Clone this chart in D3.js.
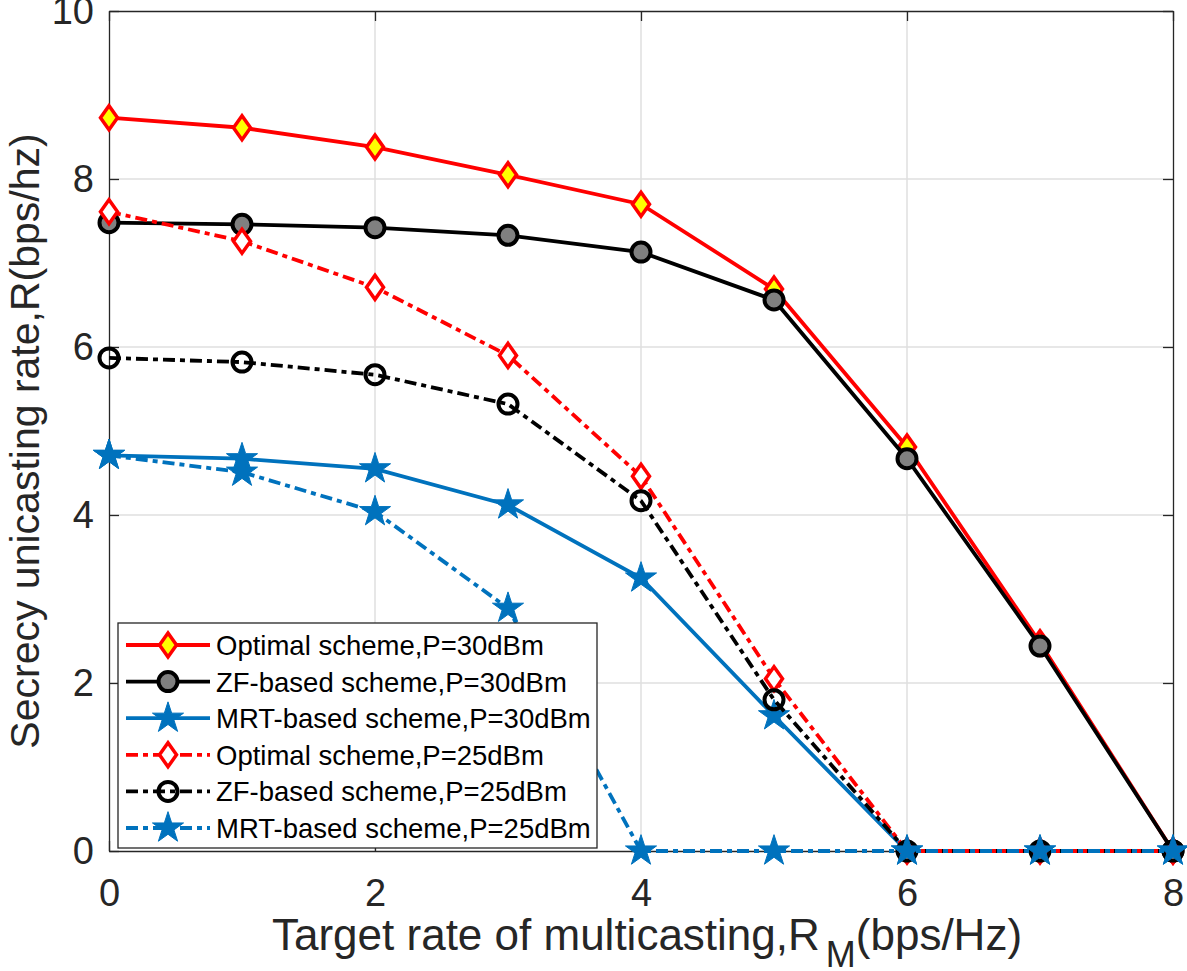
<!DOCTYPE html>
<html><head><meta charset="utf-8">
<script src="https://cdn.jsdelivr.net/npm/d3@7"></script>
<style>body{margin:0;background:#fff;} text{font-family:"Liberation Sans",Arial,Helvetica,sans-serif;}</style>
</head><body><svg id="c" width="1187" height="971"></svg>
<script>
const xs = [0,1,2,3,4,5,6,7,8];
const opt30 = [8.73,8.61,8.38,8.05,7.70,6.69,4.81,2.48,0];
const zf30  = [7.48,7.46,7.42,7.33,7.13,6.56,4.67,2.44,0];
const mrt30 = [4.71,4.67,4.55,4.12,3.25,1.61,0,0,0];
const opt25 = [7.61,7.26,6.71,5.90,4.46,2.05,0,0,0];
const zf25  = [5.87,5.82,5.67,5.32,4.17,1.80,0,0,0];
const mrt25 = [4.71,4.51,4.04,2.89,0,0,0,0,0];
const xTicks = [0,2,4,6,8];
const yTicks = [0,2,4,6,8,10];
const names = ["Optimal scheme,P=30dBm","ZF-based scheme,P=30dBm","MRT-based scheme,P=30dBm",
               "Optimal scheme,P=25dBm","ZF-based scheme,P=25dBm","MRT-based scheme,P=25dBm"];

const L=109,R=1173,T=11,B=851;
const svg=d3.select("#c");
const x=d3.scaleLinear().domain([0,8]).range([L,R]);
const y=d3.scaleLinear().domain([0,10]).range([B,T]);

// grid
svg.append("g").selectAll("line").data(xTicks.slice(1,-1)).join("line")
  .attr("x1",d=>x(d)).attr("x2",d=>x(d)).attr("y1",T).attr("y2",B)
  .attr("stroke","#dfdfdf").attr("stroke-width",1.5);
svg.append("g").selectAll("line").data(yTicks.slice(1,-1)).join("line")
  .attr("y1",d=>y(d)).attr("y2",d=>y(d)).attr("x1",L).attr("x2",R)
  .attr("stroke","#dfdfdf").attr("stroke-width",1.5);

// axes
const ax=svg.append("g");
ax.append("g").attr("transform",`translate(0,${B})`).call(d3.axisBottom(x).tickValues(xTicks).tickSizeInner(-10).tickSizeOuter(0).tickPadding(28));
ax.append("g").attr("transform",`translate(0,${T})`).call(d3.axisTop(x).tickValues(xTicks).tickSizeInner(-10).tickSizeOuter(0).tickFormat(""));
ax.append("g").attr("transform",`translate(${L},0)`).call(d3.axisLeft(y).tickValues(yTicks).tickSizeInner(-10).tickSizeOuter(0).tickPadding(15));
ax.append("g").attr("transform",`translate(${R},0)`).call(d3.axisRight(y).tickValues(yTicks).tickSizeInner(-10).tickSizeOuter(0).tickFormat(""));
ax.selectAll("g").attr("font-size",38).attr("font-family","Liberation Sans, Arial, sans-serif");
ax.selectAll(".domain").attr("stroke","#262626").attr("stroke-width",1.3);
ax.selectAll(".tick line").attr("stroke","#262626").attr("stroke-width",1.3);
ax.selectAll(".tick text").attr("fill","#262626").attr("font-size",38).style("font-size","38px");

const dashP="12,5,5,5";
const series=[
 {v:opt30,c:"#ff0000",dash:null,m:"diamond",fill:"#ffff00"},
 {v:zf30,c:"#000000",dash:null,m:"circle",fill:"#808080"},
 {v:mrt30,c:"#0072bd",dash:null,m:"star",fill:"#0072bd"},
 {v:opt25,c:"#ff0000",dash:dashP,m:"diamond",fill:"#ffffff"},
 {v:zf25,c:"#000000",dash:dashP,m:"circle",fill:"none"},
 {v:mrt25,c:"#0072bd",dash:dashP,m:"star",fill:"#0072bd"}
];
function marker(g,s){
  if(s.m==="diamond"){
    g.append("path").attr("d","M0,-12L8.5,0L0,12L-8.5,0Z").attr("fill",s.fill).attr("stroke",s.c).attr("stroke-width",3.5);
  } else if(s.m==="circle"){
    g.append("circle").attr("r",9.5).attr("fill",s.fill).attr("stroke",s.c).attr("stroke-width",4);
  } else {
    g.append("path").attr("d",d3.symbol(d3.symbolStar,300)()).attr("fill",s.fill).attr("stroke",s.c).attr("stroke-width",1);
  }
}
const line=d3.line().x((d,i)=>x(xs[i])).y(d=>y(d));
series.forEach((s,k)=>{
  const g=svg.append("g");
  g.append("path").datum(s.v).attr("d",line).attr("fill","none").attr("stroke",s.c)
   .attr("stroke-width",3.8).attr("stroke-dasharray",s.dash);
  s.v.forEach((v,i)=>{ const mg=g.append("g").attr("transform",`translate(${x(xs[i])},${y(v)})`); marker(mg,s); });
});

// legend
const lg=svg.append("g");
lg.append("rect").attr("x",118).attr("y",623).attr("width",479).attr("height",225)
  .attr("fill","#fff").attr("stroke","#262626").attr("stroke-width",1.3);
series.forEach((s,k)=>{
  const yy=645+k*36.6;
  lg.append("line").attr("x1",126).attr("x2",210).attr("y1",yy).attr("y2",yy)
   .attr("stroke",s.c).attr("stroke-width",3.8).attr("stroke-dasharray",s.dash);
  const mg=lg.append("g").attr("transform",`translate(168,${yy})`); marker(mg,s);
  lg.append("text").attr("x",216).attr("y",yy).attr("dy","0.36em").text(names[k])
   .style("font-size","27.5px").attr("fill","#000");
});

// axis labels
const xl=svg.append("text").attr("x",272).attr("y",950).attr("text-anchor","start").attr("fill","#262626").style("font-size","44px");
xl.append("tspan").text("Target rate of multicasting,R");
xl.append("tspan").attr("dx","6").attr("dy","17").style("font-size","36px").text("M");
xl.append("tspan").attr("dy","-17").text("(bps/Hz)");
svg.append("text").attr("transform","translate(39,441) rotate(-90)").attr("text-anchor","middle")
  .attr("fill","#262626").style("font-size","41px").text("Secrecy unicasting rate,R(bps/hz)");
</script></body></html>
